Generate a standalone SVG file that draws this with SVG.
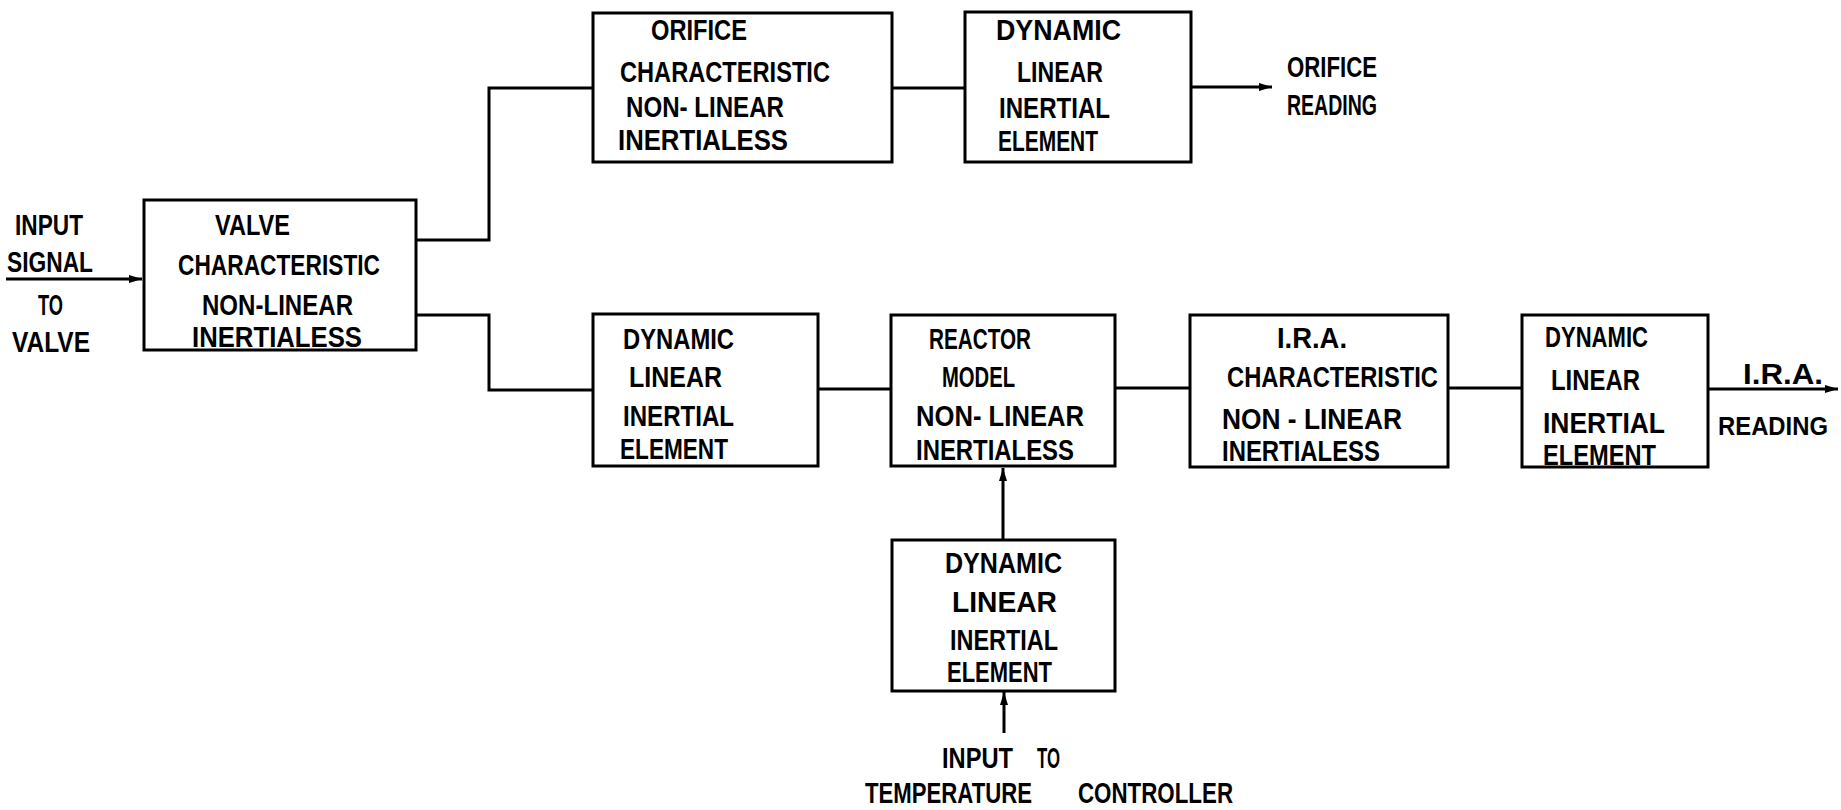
<svg xmlns="http://www.w3.org/2000/svg" width="1841" height="810" viewBox="0 0 1841 810">
<defs>
<marker id="arr" markerUnits="userSpaceOnUse" markerWidth="14" markerHeight="10" refX="13" refY="5" orient="auto">
<path d="M0,1 L13,5 L0,9 Z" fill="#000"/>
</marker>
<style>
.box{fill:#fff;stroke:#000;stroke-width:3}
.ln{fill:none;stroke:#000;stroke-width:3}
text{font-family:"Liberation Sans","DejaVu Sans",Arial,sans-serif;font-size:29px;font-weight:bold;fill:#000}
text.sm{font-size:26px}
</style>
</defs>
<rect width="1841" height="810" fill="#fff"/>
<g id="connectors">
<path class="ln" d="M6,279 H142" marker-end="url(#arr)"/>
<path class="ln" d="M416,240 H489 V88 H593"/>
<path class="ln" d="M892,88 H965"/>
<path class="ln" d="M1191,87 H1272" marker-end="url(#arr)"/>
<path class="ln" d="M416,315 H489 V390 H593"/>
<path class="ln" d="M818,389 H891"/>
<path class="ln" d="M1115,388 H1190"/>
<path class="ln" d="M1448,388 H1522"/>
<path class="ln" d="M1708,389 H1838" marker-end="url(#arr)"/>
<path class="ln" d="M1003,540 V468" marker-end="url(#arr)"/>
<path class="ln" d="M1004,733 V692" marker-end="url(#arr)"/>
</g>
<g id="input-label">
<text x="15" y="235" textLength="68" lengthAdjust="spacingAndGlyphs">INPUT</text>
<text x="7" y="272" textLength="86" lengthAdjust="spacingAndGlyphs">SIGNAL</text>
<text x="38" y="315" textLength="25" lengthAdjust="spacingAndGlyphs">TO</text>
<text x="12" y="352" textLength="78" lengthAdjust="spacingAndGlyphs">VALVE</text>
</g>
<g id="valve">
<rect class="box" x="144" y="200" width="272" height="150"/>
<text x="215" y="235" textLength="75" lengthAdjust="spacingAndGlyphs">VALVE</text>
<text x="178" y="275" textLength="202" lengthAdjust="spacingAndGlyphs">CHARACTERISTIC</text>
<text x="202" y="315" textLength="151" lengthAdjust="spacingAndGlyphs">NON-LINEAR</text>
<text x="192" y="347" textLength="170" lengthAdjust="spacingAndGlyphs">INERTIALESS</text>
</g>
<g id="orifice">
<rect class="box" x="593" y="13" width="299" height="149"/>
<text x="651" y="40" textLength="96" lengthAdjust="spacingAndGlyphs">ORIFICE</text>
<text x="620" y="82" textLength="210" lengthAdjust="spacingAndGlyphs">CHARACTERISTIC</text>
<text x="626" y="117" textLength="158" lengthAdjust="spacingAndGlyphs">NON- LINEAR</text>
<text x="618" y="150" textLength="170" lengthAdjust="spacingAndGlyphs">INERTIALESS</text>
</g>
<g id="dynamic-top">
<rect class="box" x="965" y="12" width="226" height="150"/>
<text x="996" y="40" textLength="125" lengthAdjust="spacingAndGlyphs">DYNAMIC</text>
<text x="1017" y="82" textLength="86" lengthAdjust="spacingAndGlyphs">LINEAR</text>
<text x="999" y="118" textLength="111" lengthAdjust="spacingAndGlyphs">INERTIAL</text>
<text x="998" y="151" textLength="100" lengthAdjust="spacingAndGlyphs">ELEMENT</text>
</g>
<g id="orifice-reading">
<text x="1287" y="77" textLength="90" lengthAdjust="spacingAndGlyphs">ORIFICE</text>
<text x="1287" y="115" textLength="90" lengthAdjust="spacingAndGlyphs">READING</text>
</g>
<g id="dynamic-2">
<rect class="box" x="593" y="314" width="225" height="152"/>
<text x="623" y="349" textLength="111" lengthAdjust="spacingAndGlyphs">DYNAMIC</text>
<text x="629" y="387" textLength="93" lengthAdjust="spacingAndGlyphs">LINEAR</text>
<text x="623" y="426" textLength="111" lengthAdjust="spacingAndGlyphs">INERTIAL</text>
<text x="620" y="459" textLength="108" lengthAdjust="spacingAndGlyphs">ELEMENT</text>
</g>
<g id="reactor">
<rect class="box" x="891" y="315" width="224" height="151"/>
<text x="929" y="349" textLength="102" lengthAdjust="spacingAndGlyphs">REACTOR</text>
<text x="942" y="387" textLength="73" lengthAdjust="spacingAndGlyphs">MODEL</text>
<text x="916" y="426" textLength="168" lengthAdjust="spacingAndGlyphs">NON- LINEAR</text>
<text x="916" y="460" textLength="158" lengthAdjust="spacingAndGlyphs">INERTIALESS</text>
</g>
<g id="ira">
<rect class="box" x="1190" y="315" width="258" height="152"/>
<text x="1277" y="348" textLength="70" lengthAdjust="spacingAndGlyphs">I.R.A.</text>
<text x="1227" y="387" textLength="211" lengthAdjust="spacingAndGlyphs">CHARACTERISTIC</text>
<text x="1222" y="429" textLength="180" lengthAdjust="spacingAndGlyphs">NON - LINEAR</text>
<text x="1222" y="461" textLength="158" lengthAdjust="spacingAndGlyphs">INERTIALESS</text>
</g>
<g id="dynamic-3">
<rect class="box" x="1522" y="315" width="186" height="152"/>
<text x="1545" y="347" textLength="103" lengthAdjust="spacingAndGlyphs">DYNAMIC</text>
<text x="1551" y="390" textLength="89" lengthAdjust="spacingAndGlyphs">LINEAR</text>
<text x="1543" y="433" textLength="122" lengthAdjust="spacingAndGlyphs">INERTIAL</text>
<text x="1543" y="465" textLength="113" lengthAdjust="spacingAndGlyphs">ELEMENT</text>
</g>
<g id="ira-reading">
<text x="1743" y="384" textLength="80" lengthAdjust="spacingAndGlyphs">I.R.A.</text>
<text class="sm" x="1718" y="435" textLength="110" lengthAdjust="spacingAndGlyphs">READING</text>
</g>
<g id="dynamic-4">
<rect class="box" x="892" y="540" width="223" height="151"/>
<text x="945" y="573" textLength="117" lengthAdjust="spacingAndGlyphs">DYNAMIC</text>
<text x="952" y="612" textLength="105" lengthAdjust="spacingAndGlyphs">LINEAR</text>
<text x="950" y="650" textLength="108" lengthAdjust="spacingAndGlyphs">INERTIAL</text>
<text x="947" y="682" textLength="105" lengthAdjust="spacingAndGlyphs">ELEMENT</text>
</g>
<g id="temp-input-label">
<text x="942" y="768" textLength="71" lengthAdjust="spacingAndGlyphs">INPUT</text>
<text x="1037" y="768" textLength="23" lengthAdjust="spacingAndGlyphs">TO</text>
<text x="865" y="803" textLength="167" lengthAdjust="spacingAndGlyphs">TEMPERATURE</text>
<text x="1078" y="803" textLength="155" lengthAdjust="spacingAndGlyphs">CONTROLLER</text>
</g>
</svg>
